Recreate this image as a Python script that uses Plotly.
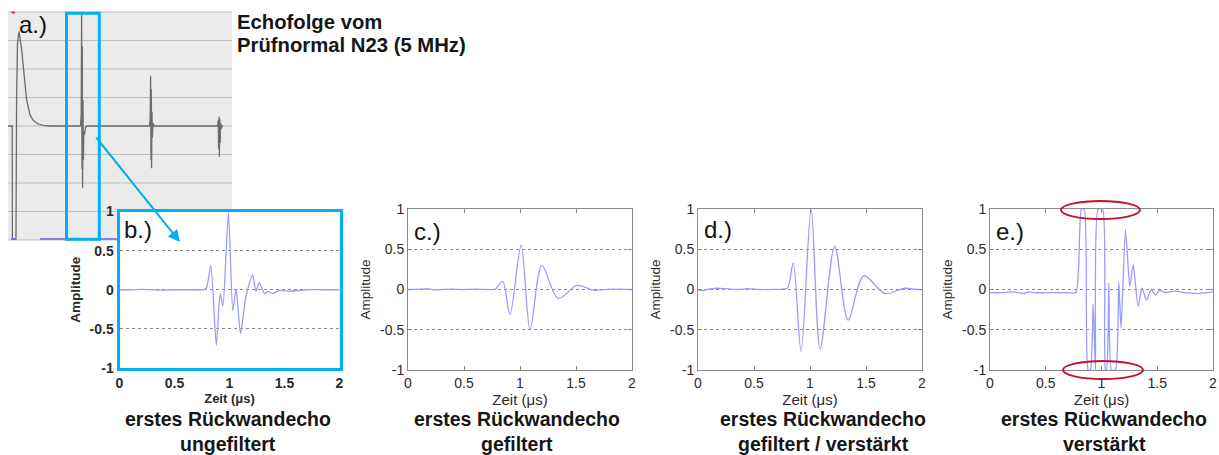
import plotly.graph_objects as go

W, H = 1219, 455

# ---------------- data ----------------
# a.) A-scan echo sequence (arbitrary sample units, amplitude in grid divisions)
a_t = [0, 4.2, 4.4, 7.8, 8.0, 8.6, 9.5, 11, 13.7, 15.3, 18.7, 22, 25.3, 30.3, 35.3, 42,
       72.5, 73.2, 73.6, 74.0, 74.3, 74.6, 75.0, 75.4, 75.8, 76.5, 77.5, 79,
       141.5, 142.2, 142.6, 143.0, 143.3, 143.6, 144.0, 144.4, 145, 146,
       209.5, 210.2, 210.6, 211.0, 211.4, 211.8, 212.2, 212.6, 213.2, 214, 215]
a_amp = [0, 0, -3.97, -3.97, -3.97, 1.0, 2.9, 3.31, 2.67, 2.08, 0.91, 0.39, 0.19, 0.07, 0.02, 0,
         0, 0.4, 3.9, -1.5, 2.8, -2.18, 0.9, -1.2, -0.2, -0.3, -0.05, 0,
         0, 0.3, 1.76, -1.2, 1.3, -1.48, 0.5, -0.4, 0.1, 0,
         0, 0.2, -0.8, 0.33, -1.08, 0.25, -0.6, 0.1, -0.1, 0, 0]

# b.) first back-wall echo, unfiltered
b_t = [0, 0.1, 0.2, 0.3, 0.4, 0.5, 0.6, 0.7, 0.76, 0.79, 0.83, 0.88, 0.915, 0.94, 0.99, 1.03,
       1.06, 1.10, 1.15, 1.21, 1.24, 1.27, 1.32, 1.35, 1.39, 1.45, 1.55, 1.7, 1.85, 2.0]
b_amp = [0, 0, 0.005, 0, -0.005, 0, 0, 0, 0, 0.02, 0.31, -0.71, -0.05, -0.21, 0.99, -0.27,
         0.01, -0.56, -0.08, 0.19, -0.02, 0.09, -0.05, -0.02, -0.05, -0.01, -0.02, 0, 0, 0]

# c.) filtered
c_t = [0, 0.1, 0.2, 0.25, 0.3, 0.4, 0.45, 0.5, 0.6, 0.7, 0.78, 0.845, 0.91, 1.01, 1.09,
       1.195, 1.34, 1.51, 1.66, 1.8, 1.9, 2.0]
c_amp = [0, 0.005, 0.005, -0.005, 0, 0.005, 0, 0, 0.005, 0, 0.005, 0.10, -0.31, 0.55, -0.50,
         0.30, -0.11, 0.05, -0.01, 0.005, 0.005, 0]

# d.) filtered / amplified
d_t = [0, 0.03, 0.08, 0.15, 0.25, 0.35, 0.45, 0.55, 0.65, 0.75, 0.80, 0.85, 0.92, 1.01,
       1.09, 1.22, 1.34, 1.48, 1.67, 1.84, 1.95, 2.0]
d_amp = [0, -0.015, 0, 0.015, 0.01, 0, 0.01, 0, 0, 0.005, 0.02, 0.33, -0.77, 1.0,
         -0.74, 0.54, -0.38, 0.17, -0.05, 0.015, 0, 0]

# e.) amplified (clipped)
e_t = [0, 0.1, 0.2, 0.3, 0.35, 0.4, 0.5, 0.6, 0.7, 0.77, 0.82, 0.845, 0.88, 0.90, 0.925,
       0.946, 0.97, 1.01, 1.035, 1.045, 1.066, 1.09, 1.125, 1.155, 1.175, 1.215, 1.254,
       1.284, 1.328, 1.364, 1.403, 1.448, 1.484, 1.52, 1.58, 1.65, 1.75, 1.85, 1.95, 2.0]
e_amp = [-0.04, -0.04, -0.03, -0.05, -0.03, -0.04, -0.04, -0.04, -0.04, -0.04, 1.0, 1.0,
         -1.0, -1.0, -0.18, -1.0, 1.0, 1.0, -1.0, -1.0, 0.08, -1.0, -1.0, 0.09, -0.48, 0.74,
         0.04, 0.31, -0.21, 0.02, -0.13, 0.0, -0.07, -0.01, -0.04, -0.02, -0.04, -0.05, -0.04, -0.03]

panel_labels = ["a.)", "b.)", "c.)", "d.)", "e.)"]
captions_1 = ["erstes Rückwandecho"] * 4
captions_2 = ["ungefiltert", "gefiltert", "gefiltert / verstärkt", "verstärkt"]
x_ticks = [0, 0.5, 1, 1.5, 2]
x_ticktext = ["0", "0.5", "1", "1.5", "2"]
y_ticks = [-1, -0.5, 0, 0.5, 1]
y_ticktext = ["-1", "-0.5", "0", "0.5", "1"]

# ---------------- helpers ----------------
FONT = "Liberation Sans, Arial, sans-serif"
CYAN = "#00B0F0"
SIG = "#9a9aff"


def dxp(p0, p1):
    return [p0 / W, p1 / W]


def dyp(p0, p1):
    return [1 - p1 / H, 1 - p0 / H]


def px(x):
    return x / W


def py(y):
    return 1 - y / H


fig = go.Figure()

fig.add_trace(go.Scatter(x=a_t, y=a_amp, mode="lines", line=dict(color="#6c6c6c", width=1.3),
                         xaxis="x", yaxis="y", hoverinfo="skip"))
for i, (t, a, sh) in enumerate([(b_t, b_amp, 0.6), (c_t, c_amp, 0.9), (d_t, d_amp, 0.9), (e_t, e_amp, 0.6)]):
    n = i + 2
    fig.add_trace(go.Scatter(x=t, y=a, mode="lines",
                             line=dict(color=SIG, width=1.3, shape="spline", smoothing=sh),
                             xaxis=f"x{n}", yaxis=f"y{n}", hoverinfo="skip"))

layout = dict(
    template="none",
    width=W, height=H, margin=dict(l=0, r=0, t=0, b=0, pad=0), autosize=False,
    paper_bgcolor="white", plot_bgcolor="rgba(0,0,0,0)", showlegend=False,
    font=dict(family=FONT, color="#222"),
)

# panel a axes (hidden)
layout["xaxis"] = dict(domain=dxp(8, 232), range=[0, 224], visible=False, anchor="y", automargin=False)
layout["yaxis"] = dict(domain=dyp(12, 240), range=[-4, 4], visible=False, anchor="x", automargin=False)

# panel domains (left, right) in px
pan_x = {2: (119.5, 339.5), 3: (408, 632), 4: (698, 922), 5: (990, 1213)}
pan_y = {2: (211.5, 368), 3: (209, 370), 4: (209, 370), 5: (209, 370)}

for n in range(2, 6):
    bold = n == 2
    lc = CYAN if bold else "#8a8a8a"
    lw = 3 if bold else 1
    tf = dict(family=FONT, size=14, color="#2a2a2a")
    titf = dict(family=FONT, size=15 if not bold else 13, color="#2a2a2a")
    pre, post = ("<b>", "</b>") if bold else ("", "")
    layout[f"xaxis{n}"] = dict(
        domain=dxp(*pan_x[n]), anchor=f"y{n}", range=[0, 2], automargin=False,
        tickvals=x_ticks, ticktext=[pre + s + post for s in x_ticktext],
        ticks="" if bold else "inside", ticklen=4, tickcolor="#8a8a8a",
        showline=True, linecolor=lc, linewidth=lw, mirror=True if bold else "ticks",
        showgrid=False, zeroline=False, tickfont=tf, fixedrange=True,
        title=dict(text=pre + "Zeit (μs)" + post, font=titf, standoff=1),
    )
    layout[f"yaxis{n}"] = dict(
        domain=dyp(*pan_y[n]), anchor=f"x{n}", range=[-1, 1], automargin=False,
        tickvals=y_ticks, ticktext=[pre + s + post for s in y_ticktext],
        ticks="" if bold else "inside", ticklen=4, tickcolor="#8a8a8a",
        showline=True, linecolor=lc, linewidth=lw, mirror=True if bold else "ticks",
        showgrid=True, gridcolor="#8a8a8a", griddash="dot", gridwidth=1,
        zeroline=False, tickfont=tf, fixedrange=True,
        title=dict(text=pre + "Amplitude" + post, font=dict(family=FONT, size=13.5, color="#2a2a2a"), standoff=6),
    )

shapes = []
# grey background of panel a (kept out of panel b's box)
shapes.append(dict(type="rect", xref="paper", yref="paper", x0=px(8), x1=px(232), y0=py(209), y1=py(12),
                   fillcolor="#ebebeb", line=dict(width=0), layer="below"))
shapes.append(dict(type="rect", xref="paper", yref="paper", x0=px(8), x1=px(117), y0=py(240), y1=py(209),
                   fillcolor="#ebebeb", line=dict(width=0), layer="below"))
# grid lines of panel a
grid_a = [12, 40.5, 69, 97.5, 126, 154.5, 183, 211.5, 240]
for g in grid_a:
    x1 = 232 if g < 209 else 117
    shapes.append(dict(type="line", xref="paper", yref="paper", x0=px(8), x1=px(x1), y0=py(g), y1=py(g),
                       line=dict(color="#bdbdbd", width=1), layer="below"))
# purple bottom marks and red dot in panel a
shapes.append(dict(type="line", xref="paper", yref="paper", x0=px(11), x1=px(16), y0=py(239), y1=py(239),
                   line=dict(color="#7a70e0", width=2)))
shapes.append(dict(type="line", xref="paper", yref="paper", x0=px(40), x1=px(117), y0=py(239), y1=py(239),
                   line=dict(color="#8a80e8", width=2)))
shapes.append(dict(type="line", xref="paper", yref="paper", x0=px(11.5), x1=px(15), y0=py(12.5), y1=py(12.5),
                   line=dict(color="#e03030", width=2)))
# cyan selection box
shapes.append(dict(type="rect", xref="paper", yref="paper", x0=px(66.5), x1=px(99.3), y0=py(239.3), y1=py(13.3),
                   line=dict(color=CYAN, width=3), fillcolor="rgba(0,0,0,0)", layer="above"))
# red ellipses in e.)
shapes.append(dict(type="circle", xref="paper", yref="paper", x0=px(1061), x1=px(1140), y0=py(219), y1=py(201),
                   line=dict(color="#c8102e", width=2)))
shapes.append(dict(type="circle", xref="paper", yref="paper", x0=px(1063), x1=px(1143), y0=py(379), y1=py(361),
                   line=dict(color="#c8102e", width=2)))
layout["shapes"] = shapes

ann = []
# arrow from selection box to panel b
ann.append(dict(xref="paper", yref="paper", x=px(180), y=py(242), ax=95 - 180, ay=136 - 242,
                showarrow=True, arrowhead=2, arrowsize=1.2, arrowwidth=2, arrowcolor=CYAN, text=""))
# title text
TF = dict(family=FONT, size=20.3, color="#161616", weight="bold")
ann.append(dict(xref="paper", yref="paper", x=px(235), y=py(22), xanchor="left", yanchor="middle",
                text="Echofolge vom", showarrow=False, font=TF))
ann.append(dict(xref="paper", yref="paper", x=px(235), y=py(45), xanchor="left", yanchor="middle",
                text="Prüfnormal N23 (5 MHz)", showarrow=False, font=TF))
# panel labels
lab_pos = [(17, 24), (122, 229), (412, 231), (702, 229), (994, 231)]
for lab, (lx, ly) in zip(panel_labels, lab_pos):
    ann.append(dict(xref="paper", yref="paper", x=px(lx), y=py(ly), xanchor="left", yanchor="middle",
                    text=lab, showarrow=False, font=dict(family=FONT, size=24, color="#111")))
# captions
CF = dict(family=FONT, size=19.5, color="#161616", weight="bold")
cap_x = [228, 517, 823, 1104]
for cx, c1, c2 in zip(cap_x, captions_1, captions_2):
    ann.append(dict(xref="paper", yref="paper", x=px(cx), y=py(419), xanchor="center", yanchor="middle",
                    text=c1, showarrow=False, font=CF))
    ann.append(dict(xref="paper", yref="paper", x=px(cx), y=py(444), xanchor="center", yanchor="middle",
                    text=c2, showarrow=False, font=CF))
layout["annotations"] = ann

fig.update_layout(**layout)
fig.write_html("out.html", config={"displayModeBar": False},
               post_script="document.body.style.margin='0px';document.body.style.overflow='hidden';")
